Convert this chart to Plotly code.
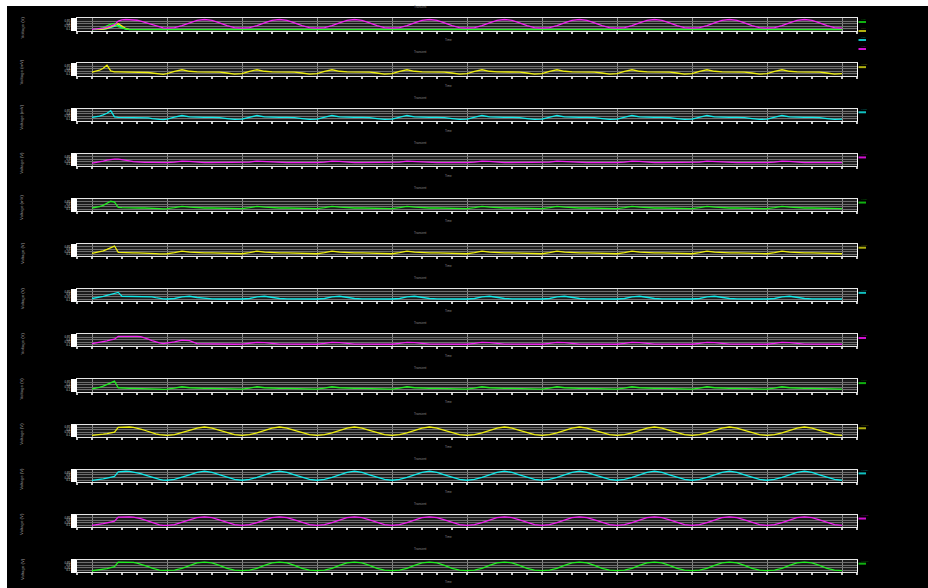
import plotly.graph_objects as go

W, H = 928, 588

# sample times in ms: 1 ms steps through the start-up cycle, 2 ms afterwards
TIME_MS = list(range(0, 21)) + list(range(22, 201, 2))

Y_TICKS = [0.1, 0.35, 0.6, 0.85]

# ---- node voltages (normalised), one list per trace ----
VA_MAG = [0.03, 0.06, 0.1, 0.16, 0.24, 0.34, 0.5, 0.85, 0.97, 1.0, 1.0, 0.99, 0.93, 0.84, 0.72, 0.6, 0.47, 0.35, 0.25, 0.18, 0.15,
          0.2, 0.4, 0.68, 0.92, 1.0, 0.92, 0.68, 0.4, 0.2, 0.15,
          0.2, 0.4, 0.68, 0.92, 1.0, 0.92, 0.68, 0.4, 0.2, 0.15,
          0.2, 0.4, 0.68, 0.92, 1.0, 0.92, 0.68, 0.4, 0.2, 0.15,
          0.2, 0.4, 0.68, 0.92, 1.0, 0.92, 0.68, 0.4, 0.2, 0.15,
          0.2, 0.4, 0.68, 0.92, 1.0, 0.92, 0.68, 0.4, 0.2, 0.15,
          0.2, 0.4, 0.68, 0.92, 1.0, 0.92, 0.68, 0.4, 0.2, 0.15,
          0.2, 0.4, 0.68, 0.92, 1.0, 0.92, 0.68, 0.4, 0.2, 0.15,
          0.2, 0.4, 0.68, 0.92, 1.0, 0.92, 0.68, 0.4, 0.2, 0.15,
          0.2, 0.4, 0.68, 0.92, 1.0, 0.92, 0.68, 0.4, 0.2, 0.15]
VA_GRN = [0, 0.04, 0.1, 0.2, 0.35, 0.55, 0.62, 0.3, 0.15, 0.05, 0, 0, 0, 0, 0, 0, 0, 0, 0, 0, 0,
          0, 0, 0, 0, 0, 0, 0, 0, 0, 0,
          0, 0, 0, 0, 0, 0, 0, 0, 0, 0,
          0, 0, 0, 0, 0, 0, 0, 0, 0, 0,
          0, 0, 0, 0, 0, 0, 0, 0, 0, 0,
          0, 0, 0, 0, 0, 0, 0, 0, 0, 0,
          0, 0, 0, 0, 0, 0, 0, 0, 0, 0,
          0, 0, 0, 0, 0, 0, 0, 0, 0, 0,
          0, 0, 0, 0, 0, 0, 0, 0, 0, 0,
          0, 0, 0, 0, 0, 0, 0, 0, 0, 0]
VA_YEL = [0, 0, 0.02, 0.06, 0.14, 0.3, 0.5, 0.58, 0.35, 0.12, 0, 0, 0, 0, 0, 0, 0, 0, 0, 0, 0,
          0, 0, 0, 0, 0, 0, 0, 0, 0, 0,
          0, 0, 0, 0, 0, 0, 0, 0, 0, 0,
          0, 0, 0, 0, 0, 0, 0, 0, 0, 0,
          0, 0, 0, 0, 0, 0, 0, 0, 0, 0,
          0, 0, 0, 0, 0, 0, 0, 0, 0, 0,
          0, 0, 0, 0, 0, 0, 0, 0, 0, 0,
          0, 0, 0, 0, 0, 0, 0, 0, 0, 0,
          0, 0, 0, 0, 0, 0, 0, 0, 0, 0,
          0, 0, 0, 0, 0, 0, 0, 0, 0, 0]
VA_CYN = [0, 0, 0.01, 0.04, 0.1, 0.22, 0.4, 0.45, 0.2, 0.05, 0, 0, 0, 0, 0, 0, 0, 0, 0, 0, 0,
          0, 0, 0, 0, 0, 0, 0, 0, 0, 0,
          0, 0, 0, 0, 0, 0, 0, 0, 0, 0,
          0, 0, 0, 0, 0, 0, 0, 0, 0, 0,
          0, 0, 0, 0, 0, 0, 0, 0, 0, 0,
          0, 0, 0, 0, 0, 0, 0, 0, 0, 0,
          0, 0, 0, 0, 0, 0, 0, 0, 0, 0,
          0, 0, 0, 0, 0, 0, 0, 0, 0, 0,
          0, 0, 0, 0, 0, 0, 0, 0, 0, 0,
          0, 0, 0, 0, 0, 0, 0, 0, 0, 0]
V2 = [0.26, 0.32, 0.45, 0.65, 0.94, 0.38, 0.29, 0.29, 0.29, 0.29, 0.29, 0.29, 0.29, 0.29, 0.27, 0.23, 0.18, 0.12, 0.07, 0.05, 0.12,
      0.35, 0.5, 0.35, 0.29, 0.29, 0.29, 0.27, 0.18, 0.07, 0.12,
      0.35, 0.5, 0.35, 0.29, 0.29, 0.29, 0.27, 0.18, 0.07, 0.12,
      0.35, 0.5, 0.35, 0.29, 0.29, 0.29, 0.27, 0.18, 0.07, 0.12,
      0.35, 0.5, 0.35, 0.29, 0.29, 0.29, 0.27, 0.18, 0.07, 0.12,
      0.35, 0.5, 0.35, 0.29, 0.29, 0.29, 0.27, 0.18, 0.07, 0.12,
      0.35, 0.5, 0.35, 0.29, 0.29, 0.29, 0.27, 0.18, 0.07, 0.12,
      0.35, 0.5, 0.35, 0.29, 0.29, 0.29, 0.27, 0.18, 0.07, 0.12,
      0.35, 0.5, 0.35, 0.29, 0.29, 0.29, 0.27, 0.18, 0.07, 0.12,
      0.35, 0.5, 0.35, 0.29, 0.29, 0.29, 0.27, 0.18, 0.07, 0.12]
V3 = [0.26, 0.3, 0.38, 0.5, 0.66, 0.92, 0.3, 0.26, 0.26, 0.26, 0.26, 0.26, 0.26, 0.26, 0.24, 0.2, 0.14, 0.08, 0.05, 0.04, 0.08,
      0.28, 0.44, 0.3, 0.26, 0.26, 0.26, 0.24, 0.14, 0.05, 0.08,
      0.28, 0.44, 0.3, 0.26, 0.26, 0.26, 0.24, 0.14, 0.05, 0.08,
      0.28, 0.44, 0.3, 0.26, 0.26, 0.26, 0.24, 0.14, 0.05, 0.08,
      0.28, 0.44, 0.3, 0.26, 0.26, 0.26, 0.24, 0.14, 0.05, 0.08,
      0.28, 0.44, 0.3, 0.26, 0.26, 0.26, 0.24, 0.14, 0.05, 0.08,
      0.28, 0.44, 0.3, 0.26, 0.26, 0.26, 0.24, 0.14, 0.05, 0.08,
      0.28, 0.44, 0.3, 0.26, 0.26, 0.26, 0.24, 0.14, 0.05, 0.08,
      0.28, 0.44, 0.3, 0.26, 0.26, 0.26, 0.24, 0.14, 0.05, 0.08,
      0.28, 0.44, 0.3, 0.26, 0.26, 0.26, 0.24, 0.14, 0.05, 0.08]
V4 = [0.2, 0.25, 0.32, 0.4, 0.48, 0.55, 0.58, 0.58, 0.55, 0.5, 0.42, 0.35, 0.3, 0.28, 0.27, 0.26, 0.25, 0.25, 0.24, 0.24, 0.25,
      0.3, 0.4, 0.36, 0.28, 0.25, 0.25, 0.25, 0.24, 0.24, 0.25,
      0.3, 0.4, 0.36, 0.28, 0.25, 0.25, 0.25, 0.24, 0.24, 0.25,
      0.3, 0.4, 0.36, 0.28, 0.25, 0.25, 0.25, 0.24, 0.24, 0.25,
      0.3, 0.4, 0.36, 0.28, 0.25, 0.25, 0.25, 0.24, 0.24, 0.25,
      0.3, 0.4, 0.36, 0.28, 0.25, 0.25, 0.25, 0.24, 0.24, 0.25,
      0.3, 0.4, 0.36, 0.28, 0.25, 0.25, 0.25, 0.24, 0.24, 0.25,
      0.3, 0.4, 0.36, 0.28, 0.25, 0.25, 0.25, 0.24, 0.24, 0.25,
      0.3, 0.4, 0.36, 0.28, 0.25, 0.25, 0.25, 0.24, 0.24, 0.25,
      0.3, 0.4, 0.36, 0.28, 0.25, 0.25, 0.25, 0.24, 0.24, 0.25]
V5 = [0.22, 0.28, 0.36, 0.48, 0.65, 0.88, 0.8, 0.28, 0.26, 0.24, 0.22, 0.22, 0.22, 0.22, 0.22, 0.22, 0.2, 0.17, 0.15, 0.14, 0.15,
      0.25, 0.38, 0.3, 0.24, 0.22, 0.22, 0.21, 0.19, 0.16, 0.15,
      0.25, 0.38, 0.3, 0.24, 0.22, 0.22, 0.21, 0.19, 0.16, 0.15,
      0.25, 0.38, 0.3, 0.24, 0.22, 0.22, 0.21, 0.19, 0.16, 0.15,
      0.25, 0.38, 0.3, 0.24, 0.22, 0.22, 0.21, 0.19, 0.16, 0.15,
      0.25, 0.38, 0.3, 0.24, 0.22, 0.22, 0.21, 0.19, 0.16, 0.15,
      0.25, 0.38, 0.3, 0.24, 0.22, 0.22, 0.21, 0.19, 0.16, 0.15,
      0.25, 0.38, 0.3, 0.24, 0.22, 0.22, 0.21, 0.19, 0.16, 0.15,
      0.25, 0.38, 0.3, 0.24, 0.22, 0.22, 0.21, 0.19, 0.16, 0.15,
      0.25, 0.38, 0.3, 0.24, 0.22, 0.22, 0.21, 0.19, 0.16, 0.15]
V6 = [0.2, 0.26, 0.34, 0.45, 0.6, 0.8, 0.92, 0.3, 0.27, 0.25, 0.24, 0.24, 0.24, 0.24, 0.23, 0.22, 0.2, 0.17, 0.15, 0.14, 0.16,
      0.28, 0.42, 0.32, 0.25, 0.24, 0.24, 0.23, 0.2, 0.16, 0.16,
      0.28, 0.42, 0.32, 0.25, 0.24, 0.24, 0.23, 0.2, 0.16, 0.16,
      0.28, 0.42, 0.32, 0.25, 0.24, 0.24, 0.23, 0.2, 0.16, 0.16,
      0.28, 0.42, 0.32, 0.25, 0.24, 0.24, 0.23, 0.2, 0.16, 0.16,
      0.28, 0.42, 0.32, 0.25, 0.24, 0.24, 0.23, 0.2, 0.16, 0.16,
      0.28, 0.42, 0.32, 0.25, 0.24, 0.24, 0.23, 0.2, 0.16, 0.16,
      0.28, 0.42, 0.32, 0.25, 0.24, 0.24, 0.23, 0.2, 0.16, 0.16,
      0.28, 0.42, 0.32, 0.25, 0.24, 0.24, 0.23, 0.2, 0.16, 0.16,
      0.28, 0.42, 0.32, 0.25, 0.24, 0.24, 0.23, 0.2, 0.16, 0.16]
V7 = [0.2, 0.25, 0.32, 0.4, 0.5, 0.6, 0.72, 0.8, 0.42, 0.41, 0.41, 0.41, 0.41, 0.41, 0.41, 0.41, 0.36, 0.28, 0.2, 0.16, 0.15,
      0.2, 0.35, 0.42, 0.3, 0.2, 0.17, 0.15, 0.14, 0.14, 0.15,
      0.2, 0.35, 0.42, 0.3, 0.2, 0.17, 0.15, 0.14, 0.14, 0.15,
      0.2, 0.35, 0.42, 0.3, 0.2, 0.17, 0.15, 0.14, 0.14, 0.15,
      0.2, 0.35, 0.42, 0.3, 0.2, 0.17, 0.15, 0.14, 0.14, 0.15,
      0.2, 0.35, 0.42, 0.3, 0.2, 0.17, 0.15, 0.14, 0.14, 0.15,
      0.2, 0.35, 0.42, 0.3, 0.2, 0.17, 0.15, 0.14, 0.14, 0.15,
      0.2, 0.35, 0.42, 0.3, 0.2, 0.17, 0.15, 0.14, 0.14, 0.15,
      0.2, 0.35, 0.42, 0.3, 0.2, 0.17, 0.15, 0.14, 0.14, 0.15,
      0.2, 0.35, 0.42, 0.3, 0.2, 0.17, 0.15, 0.14, 0.14, 0.15]
V8 = [0.21, 0.26, 0.32, 0.4, 0.48, 0.56, 0.63, 0.92, 0.93, 0.92, 0.92, 0.92, 0.92, 0.88, 0.78, 0.65, 0.5, 0.37, 0.27, 0.21, 0.25,
      0.38, 0.55, 0.5, 0.2, 0.18, 0.18, 0.17, 0.15, 0.14, 0.16,
      0.22, 0.32, 0.3, 0.2, 0.16, 0.15, 0.14, 0.13, 0.12, 0.14,
      0.22, 0.32, 0.3, 0.2, 0.16, 0.15, 0.14, 0.13, 0.12, 0.14,
      0.22, 0.32, 0.3, 0.2, 0.16, 0.15, 0.14, 0.13, 0.12, 0.14,
      0.22, 0.32, 0.3, 0.2, 0.16, 0.15, 0.14, 0.13, 0.12, 0.14,
      0.22, 0.32, 0.3, 0.2, 0.16, 0.15, 0.14, 0.13, 0.12, 0.14,
      0.22, 0.32, 0.3, 0.2, 0.16, 0.15, 0.14, 0.13, 0.12, 0.14,
      0.22, 0.32, 0.3, 0.2, 0.16, 0.15, 0.14, 0.13, 0.12, 0.14,
      0.22, 0.32, 0.3, 0.2, 0.16, 0.15, 0.14, 0.13, 0.12, 0.14]
V9 = [0.2, 0.26, 0.34, 0.46, 0.62, 0.85, 0.95, 0.3, 0.26, 0.24, 0.23, 0.23, 0.23, 0.23, 0.22, 0.21, 0.2, 0.18, 0.16, 0.15, 0.16,
      0.26, 0.4, 0.3, 0.24, 0.23, 0.23, 0.22, 0.2, 0.17, 0.16,
      0.26, 0.4, 0.3, 0.24, 0.23, 0.23, 0.22, 0.2, 0.17, 0.16,
      0.26, 0.4, 0.3, 0.24, 0.23, 0.23, 0.22, 0.2, 0.17, 0.16,
      0.26, 0.4, 0.3, 0.24, 0.23, 0.23, 0.22, 0.2, 0.17, 0.16,
      0.26, 0.4, 0.3, 0.24, 0.23, 0.23, 0.22, 0.2, 0.17, 0.16,
      0.26, 0.4, 0.3, 0.24, 0.23, 0.23, 0.22, 0.2, 0.17, 0.16,
      0.26, 0.4, 0.3, 0.24, 0.23, 0.23, 0.22, 0.2, 0.17, 0.16,
      0.26, 0.4, 0.3, 0.24, 0.23, 0.23, 0.22, 0.2, 0.17, 0.16,
      0.26, 0.4, 0.3, 0.24, 0.23, 0.23, 0.22, 0.2, 0.17, 0.16]
V10 = [0.06, 0.08, 0.12, 0.17, 0.23, 0.3, 0.38, 0.85, 0.88, 0.88, 0.88, 0.85, 0.78, 0.68, 0.56, 0.43, 0.31, 0.2, 0.12, 0.08, 0.06,
       0.12, 0.3, 0.55, 0.78, 0.88, 0.78, 0.55, 0.3, 0.12, 0.06,
       0.12, 0.3, 0.55, 0.78, 0.88, 0.78, 0.55, 0.3, 0.12, 0.06,
       0.12, 0.3, 0.55, 0.78, 0.88, 0.78, 0.55, 0.3, 0.12, 0.06,
       0.12, 0.3, 0.55, 0.78, 0.88, 0.78, 0.55, 0.3, 0.12, 0.06,
       0.12, 0.3, 0.55, 0.78, 0.88, 0.78, 0.55, 0.3, 0.12, 0.06,
       0.12, 0.3, 0.55, 0.78, 0.88, 0.78, 0.55, 0.3, 0.12, 0.06,
       0.12, 0.3, 0.55, 0.78, 0.88, 0.78, 0.55, 0.3, 0.12, 0.06,
       0.12, 0.3, 0.55, 0.78, 0.88, 0.78, 0.55, 0.3, 0.12, 0.06,
       0.12, 0.3, 0.55, 0.78, 0.88, 0.78, 0.55, 0.3, 0.12, 0.06]
V11 = [0.08, 0.11, 0.16, 0.22, 0.3, 0.38, 0.46, 0.9, 0.97, 0.97, 0.95, 0.9, 0.84, 0.74, 0.62, 0.49, 0.36, 0.25, 0.16, 0.1, 0.08,
       0.16, 0.36, 0.62, 0.86, 0.97, 0.86, 0.62, 0.36, 0.16, 0.08,
       0.16, 0.36, 0.62, 0.86, 0.97, 0.86, 0.62, 0.36, 0.16, 0.08,
       0.16, 0.36, 0.62, 0.86, 0.97, 0.86, 0.62, 0.36, 0.16, 0.08,
       0.16, 0.36, 0.62, 0.86, 0.97, 0.86, 0.62, 0.36, 0.16, 0.08,
       0.16, 0.36, 0.62, 0.86, 0.97, 0.86, 0.62, 0.36, 0.16, 0.08,
       0.16, 0.36, 0.62, 0.86, 0.97, 0.86, 0.62, 0.36, 0.16, 0.08,
       0.16, 0.36, 0.62, 0.86, 0.97, 0.86, 0.62, 0.36, 0.16, 0.08,
       0.16, 0.36, 0.62, 0.86, 0.97, 0.86, 0.62, 0.36, 0.16, 0.08,
       0.16, 0.36, 0.62, 0.86, 0.97, 0.86, 0.62, 0.36, 0.16, 0.08]
V12 = [0.08, 0.12, 0.18, 0.25, 0.33, 0.42, 0.5, 0.9, 0.92, 0.92, 0.92, 0.9, 0.85, 0.75, 0.62, 0.48, 0.34, 0.22, 0.13, 0.09, 0.08,
       0.15, 0.35, 0.62, 0.85, 0.92, 0.85, 0.62, 0.35, 0.15, 0.08,
       0.15, 0.35, 0.62, 0.85, 0.92, 0.85, 0.62, 0.35, 0.15, 0.08,
       0.15, 0.35, 0.62, 0.85, 0.92, 0.85, 0.62, 0.35, 0.15, 0.08,
       0.15, 0.35, 0.62, 0.85, 0.92, 0.85, 0.62, 0.35, 0.15, 0.08,
       0.15, 0.35, 0.62, 0.85, 0.92, 0.85, 0.62, 0.35, 0.15, 0.08,
       0.15, 0.35, 0.62, 0.85, 0.92, 0.85, 0.62, 0.35, 0.15, 0.08,
       0.15, 0.35, 0.62, 0.85, 0.92, 0.85, 0.62, 0.35, 0.15, 0.08,
       0.15, 0.35, 0.62, 0.85, 0.92, 0.85, 0.62, 0.35, 0.15, 0.08,
       0.15, 0.35, 0.62, 0.85, 0.92, 0.85, 0.62, 0.35, 0.15, 0.08]
V13 = [0.06, 0.1, 0.15, 0.21, 0.28, 0.36, 0.46, 0.91, 0.91, 0.91, 0.91, 0.88, 0.82, 0.72, 0.6, 0.46, 0.33, 0.21, 0.13, 0.09, 0.08,
       0.12, 0.3, 0.58, 0.84, 0.91, 0.84, 0.58, 0.3, 0.12, 0.08,
       0.12, 0.3, 0.58, 0.84, 0.91, 0.84, 0.58, 0.3, 0.12, 0.08,
       0.12, 0.3, 0.58, 0.84, 0.91, 0.84, 0.58, 0.3, 0.12, 0.08,
       0.12, 0.3, 0.58, 0.84, 0.91, 0.84, 0.58, 0.3, 0.12, 0.08,
       0.12, 0.3, 0.58, 0.84, 0.91, 0.84, 0.58, 0.3, 0.12, 0.08,
       0.12, 0.3, 0.58, 0.84, 0.91, 0.84, 0.58, 0.3, 0.12, 0.08,
       0.12, 0.3, 0.58, 0.84, 0.91, 0.84, 0.58, 0.3, 0.12, 0.08,
       0.12, 0.3, 0.58, 0.84, 0.91, 0.84, 0.58, 0.3, 0.12, 0.08,
       0.12, 0.3, 0.58, 0.84, 0.91, 0.84, 0.58, 0.3, 0.12, 0.08]

MAG, YEL, CYN, GRN = "#f020f0", "#eeee10", "#10eaea", "#22ee22"
LEG = {MAG: "#d010d0", YEL: "#b0b010", CYN: "#10c0c0", GRN: "#10b010"}

# panel: y-axis title, traces (name, colour, values) in drawing order
PANELS = [
    ("Voltage (V)", [("V(b)", CYN, VA_CYN), ("V(y)", YEL, VA_YEL), ("V(g)", GRN, VA_GRN), ("V(a)", MAG, VA_MAG)]),
    ("Voltage (mV)", [("V(n2)", YEL, V2)]),
    ("Voltage (mV)", [("V(n3)", CYN, V3)]),
    ("Voltage (V)", [("V(n4)", MAG, V4)]),
    ("Voltage (mV)", [("V(n5)", GRN, V5)]),
    ("Voltage (V)", [("V(n6)", YEL, V6)]),
    ("Voltage (V)", [("V(n7)", CYN, V7)]),
    ("Voltage (V)", [("V(n8)", MAG, V8)]),
    ("Voltage (V)", [("V(n9)", GRN, V9)]),
    ("Voltage (V)", [("V(n10)", YEL, V10)]),
    ("Voltage (V)", [("V(n11)", CYN, V11)]),
    ("Voltage (V)", [("V(n12)", MAG, V12)]),
    ("Voltage (V)", [("V(n13)", GRN, V13)]),
]
LEGEND_ORDER_1 = [GRN, YEL, CYN, MAG]

TOP0, STEP, PH = 18.3, 45.14, 12.2      # panel top, pitch and height in px
XL, XR = 77, 857                        # plot area left / right in px


def px(x):
    return x / W


def py(y):
    return 1 - y / H


fig = go.Figure()
layout = {}
shapes = []
annotations = []
FONT = "Liberation Sans, Arial, sans-serif"


def note(text, x, y, size, color, **kw):
    d = dict(text=text, x=px(x), y=py(y), xref="paper", yref="paper",
             xanchor=kw.pop("xanchor", "center"), yanchor="middle",
             showarrow=False, font=dict(size=size, color=color, family=FONT))
    d.update(kw)
    annotations.append(d)


for k, (ytitle, traces) in enumerate(PANELS):
    sfx = "" if k == 0 else str(k + 1)
    top = TOP0 + k * STEP
    bot = top + PH
    for name, color, vals in traces:
        fig.add_trace(go.Scatter(
            x=TIME_MS, y=vals, name=name, mode="lines",
            xaxis="x" + sfx, yaxis="y" + sfx,
            line=dict(color=color, width=1.3),
            showlegend=False, hoverinfo="skip"))
    layout["xaxis" + sfx] = dict(
        domain=[px(XL), px(XR)], anchor="y" + sfx, range=[-4, 204],
        tick0=0, dtick=20, showgrid=True, gridcolor="#8a8a8a", gridwidth=1,
        zeroline=False, showticklabels=False,
        ticks="outside", ticklen=2, tickwidth=2, tickcolor="#c8c8c8",
        minor=dict(tick0=0, dtick=4, ticks="outside", ticklen=2, tickwidth=2,
                   tickcolor="#c8c8c8", showgrid=False),
        showline=True, linecolor="#e6e6e6", linewidth=1, mirror=True)
    layout["yaxis" + sfx] = dict(
        domain=[py(bot), py(top)], anchor="x" + sfx, range=[-0.08, 1.12],
        tickmode="array", tickvals=Y_TICKS,
        showgrid=True, gridcolor="#6e6e6e", gridwidth=1, zeroline=False,
        ticks="outside", ticklen=5, tickwidth=1, tickcolor="#ffffff",
        minor=dict(tickmode="linear", tick0=0, dtick=0.04, ticks="outside",
                   ticklen=5, tickwidth=1, tickcolor="#ffffff", showgrid=False),
        tickfont=dict(size=3, color="#c8c8c8", family=FONT),
        showline=True, linecolor="#ffffff", linewidth=1, mirror=True)

    # titles
    note(ytitle, 22, top + PH / 2 + 3, 4.3, "#9a9a9a", textangle=-90)
    note("Transient", 420, top - 11, 3, "#8a8a8a")
    note("Time", 448, bot + 10, 3, "#8a8a8a")

    # legend swatches to the right of each panel
    if k == 0:
        entries = [(c, n) for c in LEGEND_ORDER_1 for n, cc, _ in traces if cc == c]
    else:
        entries = [(traces[0][1], traces[0][0])]
    for i, (c, n) in enumerate(entries):
        ly = top + 3.7 + 9 * i
        shapes.append(dict(type="line", xref="paper", yref="paper",
                           x0=px(858.5), x1=px(866), y0=py(ly), y1=py(ly),
                           line=dict(color=LEG[c], width=2)))
        note(n, 858.5, ly - 2.6, 2.5, LEG[c], xanchor="left", opacity=0.6)

# white frame strips along the top and left edges
shapes.append(dict(type="rect", xref="paper", yref="paper", x0=0, x1=1, y0=py(6), y1=1,
                   fillcolor="white", line=dict(width=0), layer="above"))
shapes.append(dict(type="rect", xref="paper", yref="paper", x0=0, x1=px(7), y0=0, y1=1,
                   fillcolor="white", line=dict(width=0), layer="above"))

fig.update_layout(
    width=W, height=H, margin=dict(l=0, r=0, t=0, b=0),
    paper_bgcolor="#000000", plot_bgcolor="#1c1c1c",
    font=dict(family=FONT, color="#cccccc"),
    showlegend=False, shapes=shapes, annotations=annotations, **layout)

fig.write_html("out.html")
